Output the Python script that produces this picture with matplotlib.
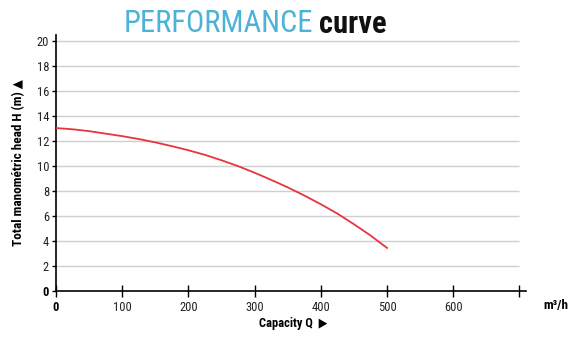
import matplotlib
matplotlib.use("Agg")
import matplotlib.pyplot as plt
from matplotlib import font_manager

names = {f.name for f in font_manager.fontManager.ttflist}
FAM = "DejaVu Sans"
for cand in ["Roboto Condensed", "Open Sans Condensed", "Liberation Sans Narrow"]:
    if cand in names:
        FAM = cand
        break
STRETCH = "condensed"
FAMS = [FAM, "DejaVu Sans"]

# Data
capacity = [0, 25, 50, 75, 100, 125, 150, 175, 200, 225, 250,
            275, 300, 325, 350, 375, 400, 425, 450, 475, 500]
head = [13.05, 12.95, 12.8, 12.6, 12.4, 12.17, 11.9, 11.6, 11.27, 10.9, 10.47,
        10.0, 9.47, 8.9, 8.3, 7.65, 6.95, 6.2, 5.35, 4.45, 3.45]
x_ticks = [0, 100, 200, 300, 400, 500, 600, 700]
x_labels = ["0", "100", "200", "300", "400", "500", "600", ""]
y_ticks = [0, 2, 4, 6, 8, 10, 12, 14, 16, 18, 20]
y_labels = [str(v) for v in y_ticks]

fig = plt.figure(figsize=(5.78, 3.43), dpi=100)
ax = fig.add_axes([56/578, 1-291/343, 470/578, 256/343])
ax.set_xlim(0, 710)
ax.set_ylim(0, 20.5)

for y in y_ticks[1:]:
    ax.hlines(y, 0, 700, color="#cfcfcf", lw=1.0, zorder=1)

ax.plot(capacity, head, color="#e8343c", lw=1.3, zorder=3)

for s in ["top", "right"]:
    ax.spines[s].set_visible(False)
for s in ["left", "bottom"]:
    ax.spines[s].set_color("black")
    ax.spines[s].set_linewidth(1.2)

ax.set_xticks(x_ticks)
ax.set_xticklabels(x_labels, fontfamily=FAM, fontstretch=STRETCH, fontsize=9, color="#222222")
ax.set_yticks(y_ticks)
ax.set_yticklabels(y_labels, fontfamily=FAM, fontstretch=STRETCH, fontsize=9, color="#222222")
ax.tick_params(axis="x", direction="inout", length=8, width=1, pad=3)
ax.tick_params(axis="y", direction="out", length=3, width=1, pad=2)
ax.get_xticklabels()[0].set_fontweight("bold")
ax.get_xticklabels()[0].set_color("black")
ax.get_yticklabels()[0].set_fontweight("bold")
ax.get_yticklabels()[0].set_color("black")

fig.text(19/578, 1-163/343, "Total manométric head H (m) \u25B2", rotation=90,
         ha="center", va="center", fontsize=9.5, fontweight="bold",
         family=FAMS, fontstretch=STRETCH)
fig.text(293/578, 1-324/343, "Capacity Q  \u25B6", ha="center", va="center",
         fontsize=9, fontweight="bold", family=FAMS, fontstretch=STRETCH)
fig.text(556/578, 1-305/343, "m\u00b3/h", ha="center", va="center",
         fontsize=9.5, fontweight="bold", fontfamily=FAM, fontstretch=STRETCH)

fig.text(313/578, 1-24/343, "PERFORMANCE", ha="right", va="center",
         fontsize=22, color="#4db3d6", fontfamily=FAM, fontstretch=STRETCH)
fig.text(319/578, 1-24/343, "curve", ha="left", va="center",
         fontsize=22, color="#111111", fontfamily=FAM, fontstretch=STRETCH,
         fontweight="bold")

fig.savefig("out.png", dpi=100)
